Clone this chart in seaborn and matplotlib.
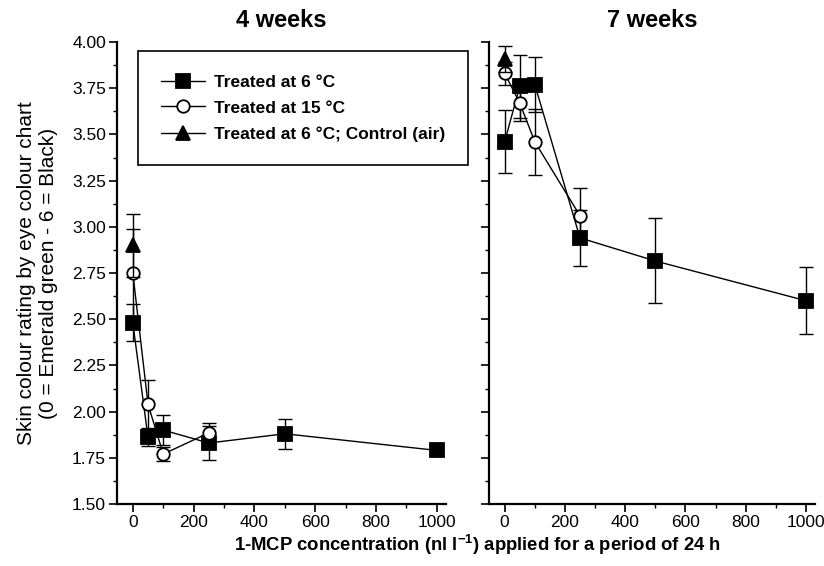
import numpy as np
import pandas as pd
import matplotlib
matplotlib.use("Agg")
import matplotlib.pyplot as plt
import seaborn as sns
from matplotlib.ticker import MultipleLocator, FormatStrFormatter

# ---------------- data ----------------
conc_6c = [0, 50, 100, 250, 500, 1000]
conc_15c = [0, 50, 100, 250]
conc_ctrl = [0]

wk4_6c = [2.48, 1.86, 1.90, 1.83, 1.88, 1.79]
wk4_6c_err = [0.10, 0.045, 0.08, 0.09, 0.08, 0.02]
wk4_15c = [2.75, 2.04, 1.77, 1.885]
wk4_15c_err = [0.24, 0.13, 0.04, 0.055]
wk4_ctrl = [2.90]
wk4_ctrl_err = [0.17]

wk7_6c = [3.46, 3.76, 3.77, 2.94, 2.815, 2.60]
wk7_6c_err = [0.17, 0.17, 0.15, 0.15, 0.23, 0.18]
wk7_15c = [3.83, 3.67, 3.46, 3.06]
wk7_15c_err = [0.06, 0.10, 0.18, 0.15]
wk7_ctrl = [3.91]
wk7_ctrl_err = [0.07]

labels = ["Treated at 6 °C", "Treated at 15 °C", "Treated at 6 °C; Control (air)"]
panel_titles = ["4 weeks", "7 weeks"]
x_label = r"1-MCP concentration (nl l$^{\mathbf{-1}}$) applied for a period of 24 h"
y_label = "Skin colour rating by eye colour chart\n(0 = Emerald green - 6 = Black)"

# ---------------- style ----------------
sns.set_theme(style="ticks")
plt.rcParams["font.family"] = ["Liberation Sans", "DejaVu Sans"]
plt.rcParams["mathtext.fontset"] = "custom"
plt.rcParams["mathtext.rm"] = "Liberation Sans"
plt.rcParams["mathtext.bf"] = "Liberation Sans:bold"
plt.rcParams["mathtext.default"] = "regular"
plt.rcParams["text.color"] = "black"
plt.rcParams["axes.labelcolor"] = "black"
plt.rcParams["xtick.color"] = "black"
plt.rcParams["ytick.color"] = "black"
plt.rcParams["axes.edgecolor"] = "black"

W, H = 824, 566
fig = plt.figure(figsize=(W / 100, H / 100), dpi=100)
ax1 = fig.add_axes([117 / W, 62 / H, 329 / W, 462 / H])
ax2 = fig.add_axes([489 / W, 62 / H, 326 / W, 462 / H])

series_style = [
    dict(marker="s", mfc="black", ms=9.5),
    dict(marker="o", mfc="white", ms=9),
    dict(marker="^", mfc="black", ms=9.5),
]


def draw(ax, xs, ys, errs, style, z):
    ax.errorbar(xs, ys, yerr=errs, fmt="none", ecolor="black", elinewidth=1,
                capsize=5, capthick=1, zorder=z)
    df = pd.DataFrame({"conc": xs, "val": ys})
    sns.lineplot(data=df, x="conc", y="val", ax=ax, color="black", lw=1,
                 marker=style["marker"], markersize=style["ms"],
                 markerfacecolor=style["mfc"], markeredgecolor="black",
                 markeredgewidth=1.3, zorder=z + 1, legend=False,
                 errorbar=None, clip_on=False)
    return ax.lines[-1]


handles = []
panels = [
    (ax1, [(conc_6c, wk4_6c, wk4_6c_err), (conc_15c, wk4_15c, wk4_15c_err),
           (conc_ctrl, wk4_ctrl, wk4_ctrl_err)]),
    (ax2, [(conc_6c, wk7_6c, wk7_6c_err), (conc_15c, wk7_15c, wk7_15c_err),
           (conc_ctrl, wk7_ctrl, wk7_ctrl_err)]),
]
for pi, (ax, sers) in enumerate(panels):
    for si, (xs, ys, es) in enumerate(sers):
        ln = draw(ax, xs, ys, es, series_style[si], 2 + 2 * si)
        if pi == 0:
            handles.append(ln)

for i, ax in enumerate([ax1, ax2]):
    ax.set_xlim(-52, 1030)
    ax.set_ylim(1.5, 4.0)
    ax.xaxis.set_major_locator(MultipleLocator(200))
    ax.xaxis.set_minor_locator(MultipleLocator(100))
    ax.yaxis.set_major_locator(MultipleLocator(0.25))
    ax.yaxis.set_minor_locator(MultipleLocator(0.125))
    ax.yaxis.set_major_formatter(FormatStrFormatter("%.2f"))
    ax.spines["top"].set_visible(False)
    ax.spines["right"].set_visible(False)
    ax.spines["left"].set_linewidth(1.6)
    ax.spines["bottom"].set_linewidth(1.6)
    ax.tick_params(which="major", direction="out", length=6, width=1.2,
                   labelsize=12.5, colors="black", pad=2)
    ax.tick_params(which="minor", direction="out", length=3, width=1.0)
    ax.set_xlabel("")
    ax.set_ylabel("")
    ax.set_title(panel_titles[i], fontsize=17, fontweight="bold", pad=11)
    ax.set_facecolor("white")

ax2.tick_params(axis="y", labelleft=False)
ax1.set_ylabel(y_label, fontsize=15, labelpad=10, linespacing=1.2)
fig.text(478 / W, 21 / H, x_label, ha="center", va="center",
         fontsize=13.3, fontweight="bold")

leg = ax1.legend(handles, labels, loc="upper left",
                 bbox_to_anchor=(138 / W, 1 - 51 / H), bbox_transform=fig.transFigure,
                 frameon=True, fancybox=False, edgecolor="black", framealpha=1,
                 prop={"weight": "bold", "size": 12.5}, handlelength=2.5,
                 handletextpad=0.5, labelspacing=0.62, borderpad=1.35,
                 borderaxespad=0)
leg.get_frame().set_linewidth(1.2)
leg.set_zorder(20)

fig.savefig("out.png", dpi=100, facecolor="white")
